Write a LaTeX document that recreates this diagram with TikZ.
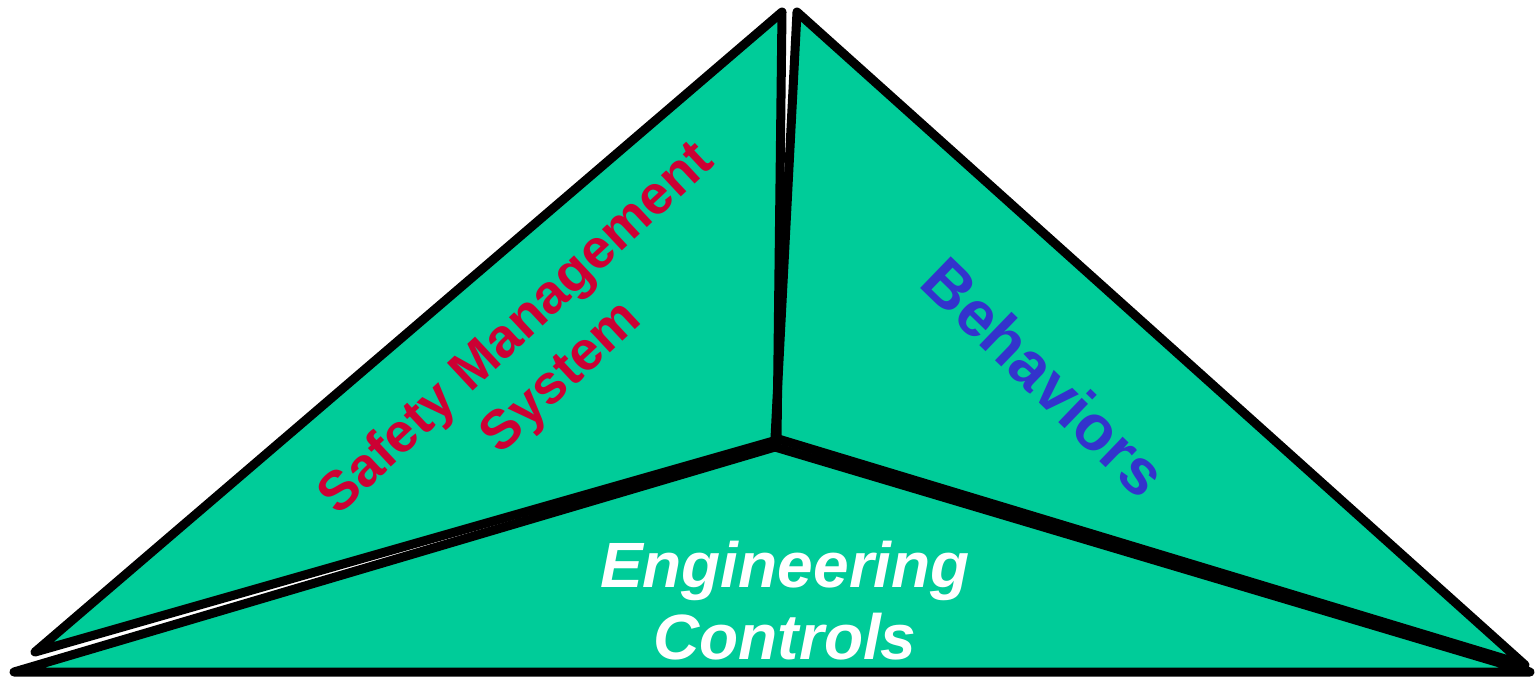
\documentclass[tikz,border=0pt]{standalone}
\usepackage{fontspec}
\setmainfont{Liberation Sans}
\definecolor{faceGreen}{HTML}{00CC99}
\definecolor{labelRed}{HTML}{CC0033}
\definecolor{labelBlue}{HTML}{3333CC}

\begin{document}
\begin{tikzpicture}[
  x=1pt, y=-1pt,
  face/.style={fill=faceGreen},
  edge/.style={draw=black, line width=9pt, line join=round, line cap=round},
  lbl/.style={font=\fontsize{55}{66}\selectfont\bfseries, align=center, inner sep=0pt}
]
\useasboundingbox (0,0) rectangle (1537,678);

% corners of the three faces
\coordinate (smsTop) at (782,12);
\coordinate (smsLeft) at (35,652);
\coordinate (smsIn) at (777,440);
\coordinate (behTop) at (797,12);
\coordinate (behRight) at (1525,665);
\coordinate (behIn) at (775,438);
\coordinate (engLeft) at (14,672);
\coordinate (engRight) at (1530,672);
\coordinate (engTop) at (775,447);

% faces first, outlines on top
\fill[face] (smsTop) -- (smsLeft) -- (smsIn) -- cycle;
\fill[face] (behTop) -- (behIn) -- (behRight) -- cycle;
\fill[face] (engLeft) -- (engTop) -- (engRight) -- cycle;
\draw[edge] (smsTop) -- (smsLeft) -- (smsIn) -- cycle;
\draw[edge] (behTop) -- (behIn) -- (behRight) -- cycle;
\draw[edge] (engLeft) -- (engTop) -- (engRight) -- cycle;

\node[lbl, text=labelRed, rotate=43] (sms) at (540,354) {Safety Management\\System};
\node[lbl, text=labelBlue, rotate=-44, font=\fontsize{64}{70}\selectfont\bfseries] (beh) at (1045,377) {Behaviors};
\node[lbl, text=white, font=\fontsize{64}{72}\selectfont\bfseries\itshape] (eng) at (785,601) {Engineering\\Controls};
\end{tikzpicture}
\end{document}
